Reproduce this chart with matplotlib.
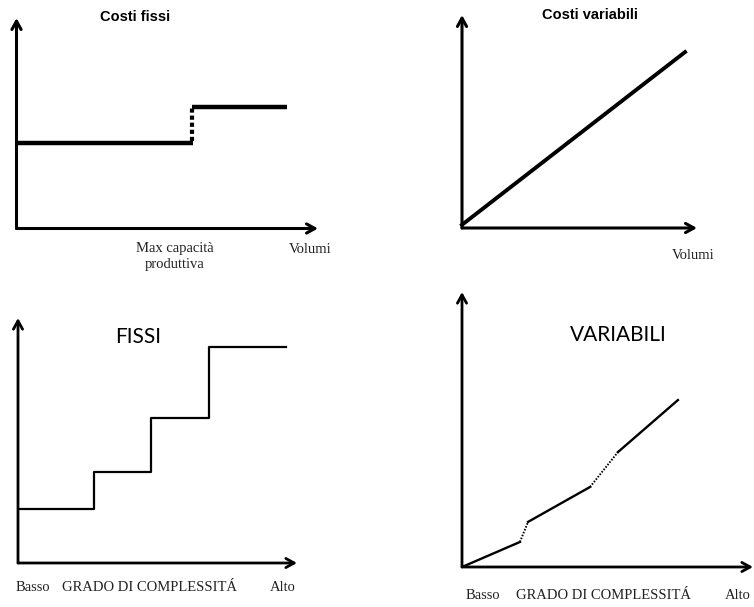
import matplotlib.pyplot as plt

# -----------------------------
# DATA (unità arbitrarie, assi 0..100)
# -----------------------------
# Costi fissi: gradino alla max capacità produttiva
fissi_x_low = [0, 58.5]
fissi_y_low = [40.6, 40.6]
fissi_x_jump = [58.2, 58.2]
fissi_y_jump = [41.5, 57.7]
fissi_x_high = [58.2, 89.7]
fissi_y_high = [57.7, 57.7]

# Costi variabili: retta
var_x = [0, 94.9]
var_y = [1.5, 82.6]

# FISSI vs grado di complessità (scala)
scala_x = [0, 27.2, 27.2, 47.7, 47.7, 68.5, 68.5, 96.1]
scala_y = [22.0, 22.0, 37.1, 37.1, 59.2, 59.2, 88.2, 88.2]

# VARIABILI vs grado di complessità (spezzata, tratti punteggiati)
varc_x = [0, 19.9, 22.7, 44.0, 53.6, 74.2]
varc_y = [0, 9.1, 16.4, 29.1, 41.8, 60.7]
varc_dotted = [False, True, False, True, False]

W, H = 754, 607

# pixel box of each panel: origin x, origin y, x arrow tip, y arrow tip
boxes = [
    (16.5, 228.5, 318, 18),
    (462, 228, 697, 15),
    (18, 563, 297, 318),
    (462, 567, 753, 292),
]

fig = plt.figure(figsize=(W / 100, H / 100), dpi=100)

axes = []
for x0, y0, x1, y1 in boxes:
    ax = fig.add_axes([x0 / W, 1 - y0 / H, (x1 - x0) / W, (y0 - y1) / H])
    ax.set_xlim(0, 100)
    ax.set_ylim(0, 100)
    ax.axis("off")
    axes.append(ax)

def frecce(ax, lw):
    for tip in [(1, 0), (0, 1)]:
        ax.annotate("", xy=tip, xytext=(0, 0),
                    xycoords="axes fraction", textcoords="axes fraction",
                    arrowprops=dict(arrowstyle="->,head_length=0.6,head_width=0.33",
                                    lw=lw, color="black", shrinkA=0, shrinkB=0),
                    annotation_clip=False)

serif = "Liberation Serif"
lab_col = "#222222"

# ------------------------
# 1) Costi fissi
# ------------------------
ax = axes[0]
frecce(ax, 2.2)
ax.plot(fissi_x_low, fissi_y_low, color="black", lw=3.2, solid_capstyle="butt")
ax.plot(fissi_x_high, fissi_y_high, color="black", lw=3.2, solid_capstyle="butt")
ax.plot(fissi_x_jump, fissi_y_jump, color="black", lw=3.0, linestyle=(0, (1, 0.7)))
ax.text(39.3, 100.5, "Costi fissi", family="Liberation Sans", weight="bold",
        fontsize=10.5, ha="center", va="center")
ax.text(52.6, -13.3, "Max capacità\nproduttiva", family=serif, fontsize=10.5,
        ha="center", va="center", color=lab_col, linespacing=1.25)
ax.text(97.3, -10.2, "Volumi", family=serif, fontsize=10.5,
        ha="center", va="center", color=lab_col)

# ------------------------
# 2) Costi variabili
# ------------------------
ax = axes[1]
frecce(ax, 2.2)
ax.plot(var_x, var_y, color="black", lw=2.8, clip_on=False)
ax.text(54.5, 100, "Costi variabili", family="Liberation Sans", weight="bold",
        fontsize=10.5, ha="center", va="center")
ax.text(98.3, -13.1, "Volumi", family=serif, fontsize=10.5,
        ha="center", va="center", color=lab_col)

# ------------------------
# 3) FISSI
# ------------------------
ax = axes[2]
frecce(ax, 2.0)
ax.plot(scala_x, scala_y, color="black", lw=1.6)
ax.text(43.0, 92.2, "FISSI", family="Lato", fontsize=15,
        ha="center", va="center")
for xx, t in zip([5.4, 47.3, 95.0], ["Basso", "GRADO DI COMPLESSITÁ", "Alto"]):
    ax.text(xx, -10.2, t, family=serif, fontsize=10.5,
            ha="center", va="center", color=lab_col)

# ------------------------
# 4) VARIABILI
# ------------------------
ax = axes[3]
frecce(ax, 2.0)
for i in range(len(varc_x) - 1):
    if varc_dotted[i]:
        ax.plot(varc_x[i:i + 2], varc_y[i:i + 2], color="black", lw=1.4,
                linestyle=(0, (0.8, 0.8)))
    else:
        ax.plot(varc_x[i:i + 2], varc_y[i:i + 2], color="black", lw=1.7)
ax.text(53.6, 84.4, "VARIABILI", family="Lato", fontsize=15,
        ha="center", va="center")
for xx, t in zip([7.2, 48.5, 94.8], ["Basso", "GRADO DI COMPLESSITÁ", "Alto"]):
    ax.text(xx, -10.2, t, family=serif, fontsize=10.5,
            ha="center", va="center", color=lab_col)

fig.savefig("out.png", dpi=100)
